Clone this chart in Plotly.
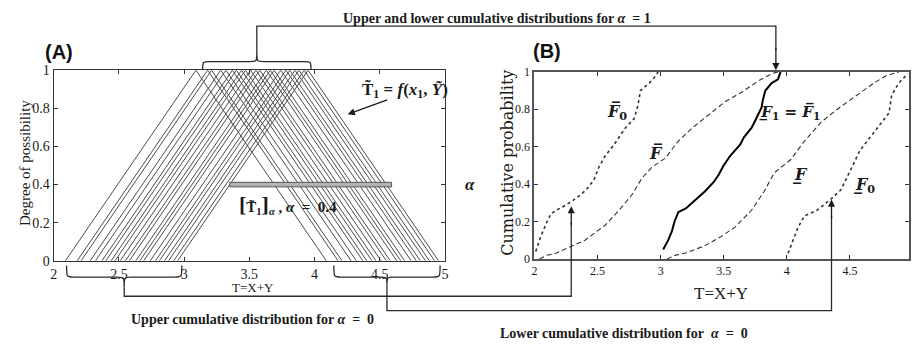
import plotly.graph_objects as go

W, H = 912, 355

# ---------------- Panel A data: triangular possibility distributions ----------------
tri_low = [2.09, 2.18, 2.21, 2.28, 2.32, 2.37, 2.40, 2.44, 2.47, 2.51, 2.55,
           2.58, 2.63, 2.66, 2.69, 2.74, 2.78, 2.81, 2.85, 2.88, 2.92, 2.95]
tri_mode = [3.09, 3.18, 3.21, 3.28, 3.32, 3.37, 3.40, 3.44, 3.47, 3.51, 3.55,
            3.58, 3.63, 3.66, 3.69, 3.74, 3.78, 3.81, 3.85, 3.88, 3.92, 3.95]
tri_high = [4.09, 4.18, 4.21, 4.28, 4.32, 4.37, 4.40, 4.44, 4.47, 4.51, 4.55,
            4.58, 4.63, 4.66, 4.69, 4.74, 4.78, 4.81, 4.85, 4.88, 4.92, 4.95]
alpha_level = 0.4
alpha_cut = [3.35, 4.59]

a_xticks = [2, 2.5, 3, 3.5, 4, 4.5, 5]
a_yticks = [0, 0.2, 0.4, 0.6, 0.8, 1]

# ---------------- Panel B data: cumulative distributions ----------------
upper0_x = [2.01, 2.05, 2.10, 2.13, 2.17, 2.23, 2.30, 2.36, 2.41, 2.47, 2.51, 2.56, 2.63,
            2.68, 2.72, 2.79, 2.82, 2.84, 2.86, 2.91, 2.95, 2.98]
upper0_y = [0.04, 0.12, 0.20, 0.24, 0.26, 0.28, 0.31, 0.34, 0.37, 0.42, 0.49, 0.55, 0.61,
            0.66, 0.70, 0.75, 0.82, 0.90, 0.91, 0.94, 0.97, 1.00]

upper_x = [2.04, 2.10, 2.17, 2.30, 2.40, 2.46, 2.56, 2.67, 2.77, 2.85, 2.93, 3.04, 3.14,
           3.25, 3.38, 3.51, 3.64, 3.77, 3.88, 3.93]
upper_y = [0.00, 0.02, 0.03, 0.07, 0.10, 0.13, 0.18, 0.26, 0.34, 0.43, 0.49, 0.54, 0.63,
           0.70, 0.77, 0.84, 0.89, 0.95, 0.99, 1.00]

exact_x = [3.02, 3.06, 3.09, 3.11, 3.14, 3.20, 3.25, 3.35, 3.42, 3.46, 3.50, 3.55, 3.59,
           3.63, 3.66, 3.72, 3.75, 3.77, 3.80, 3.81, 3.83, 3.88, 3.93, 3.95]
exact_y = [0.05, 0.10, 0.15, 0.20, 0.25, 0.27, 0.30, 0.36, 0.41, 0.45, 0.50, 0.55, 0.58,
           0.61, 0.65, 0.70, 0.74, 0.77, 0.81, 0.85, 0.90, 0.94, 0.96, 1.00]

lower_x = [3.05, 3.12, 3.19, 3.35, 3.48, 3.59, 3.72, 3.82, 3.90, 4.03, 4.14, 4.27, 4.40,
           4.56, 4.69, 4.79, 4.89]
lower_y = [0.00, 0.02, 0.03, 0.07, 0.12, 0.17, 0.26, 0.36, 0.46, 0.53, 0.63, 0.73, 0.80,
           0.88, 0.94, 0.98, 1.00]

lower0_x = [4.01, 4.05, 4.09, 4.14, 4.24, 4.35, 4.43, 4.48, 4.53, 4.58, 4.66, 4.74, 4.81,
            4.83, 4.86, 4.90, 4.93, 4.96]
lower0_y = [0.03, 0.10, 0.17, 0.23, 0.26, 0.32, 0.37, 0.44, 0.51, 0.58, 0.65, 0.72, 0.78,
            0.87, 0.91, 0.95, 0.97, 0.99]

b_xticks = [2, 2.5, 3, 3.5, 4, 4.5]
b_yticks = [0, 0.2, 0.4, 0.6, 0.8, 1]

# ---------------- layout geometry (pixels) ----------------
A_L, A_R, A_T, A_B = 51, 445, 66, 265
B_L, B_R, B_T, B_B = 535, 912, 67.7, 263
B_XMAX = 2 + (B_R - B_L) / 127.0


def fx(px):
    return px / W


def fy(py):
    return 1 - py / H


def pt(x, y):
    return f"{fx(x):.5f},{fy(y):.5f}"


def brace(x0, x1, ye, yp, yc, r=7):
    xm = (x0 + x1) / 2
    return (f"M {pt(x0, ye)} C {pt(x0, yp)} {pt(x0, yp)} {pt(x0 + r, yp)} "
            f"L {pt(xm - r, yp)} C {pt(xm, yp)} {pt(xm, yp)} {pt(xm, yc)} "
            f"C {pt(xm, yp)} {pt(xm, yp)} {pt(xm + r, yp)} "
            f"L {pt(x1 - r, yp)} C {pt(x1, yp)} {pt(x1, yp)} {pt(x1, ye)}")


def poly(points):
    return "M " + " L ".join(pt(x, y) for x, y in points)


SERIF = "Liberation Serif"
INK = "#1a1a1a"

fig = go.Figure()

# Panel A triangles
tx, ty = [], []
for lo, mo, hi in zip(tri_low, tri_mode, tri_high):
    tx += [lo, mo, hi, None]
    ty += [0, 1, 0, None]
fig.add_trace(go.Scatter(x=tx, y=ty, mode="lines", line=dict(color="#4d4d4d", width=1),
                         xaxis="x", yaxis="y", showlegend=False, hoverinfo="skip"))

# Panel B curves
curve_styles = [
    (upper0_x, upper0_y, dict(color="#333", width=1.6, dash="dot")),
    (upper_x, upper_y, dict(color="#333", width=1.1, dash="5px,3px")),
    (exact_x, exact_y, dict(color="#000", width=2)),
    (lower_x, lower_y, dict(color="#333", width=1.1, dash="5px,3px")),
    (lower0_x, lower0_y, dict(color="#333", width=1.6, dash="dot")),
]
for cx, cy, st in curve_styles:
    fig.add_trace(go.Scatter(x=cx, y=cy, mode="lines", line=st, xaxis="x2", yaxis="y2",
                             showlegend=False, hoverinfo="skip"))

shapes = []
# alpha-cut bar
shapes.append(dict(type="rect", xref="x", yref="y", x0=alpha_cut[0], x1=alpha_cut[1],
                   y0=alpha_level - 0.012, y1=alpha_level + 0.012,
                   fillcolor="#b3b3b3", line=dict(color="#555", width=1)))

conn = dict(color="#2a2a2a", width=1.3)
# braces
shapes.append(dict(type="path", xref="paper", yref="paper",
                   path=brace(201, 310, 65, 57, 47), line=conn))
shapes.append(dict(type="path", xref="paper", yref="paper",
                   path=brace(64, 180, 270, 282, 293), line=conn))
shapes.append(dict(type="path", xref="paper", yref="paper",
                   path=brace(333, 440, 270, 282, 291), line=conn))
# connectors
shapes.append(dict(type="path", xref="paper", yref="paper",
                   path=poly([(255.5, 47), (255.5, 20), (778, 20), (778, 45)]), line=conn))
shapes.append(dict(type="path", xref="paper", yref="paper",
                   path=poly([(122, 293), (122, 302), (572, 302), (572, 225)]), line=conn))
shapes.append(dict(type="path", xref="paper", yref="paper",
                   path=poly([(386.5, 291), (386.5, 317), (834, 317), (834, 218)]), line=conn))

annotations = []


def txt(x, y, text, size, family=SERIF, color=INK, **kw):
    annotations.append(dict(x=fx(x), y=fy(y), xref="paper", yref="paper", text=text,
                            showarrow=False, font=dict(family=family, size=size, color=color),
                            xanchor="center", yanchor="middle", **kw))


def arrow(xh, yh, ax, ay):
    annotations.append(dict(x=fx(xh), y=fy(yh), xref="paper", yref="paper", text="",
                            showarrow=True, ax=ax, ay=ay, arrowhead=2, arrowsize=1.1,
                            arrowwidth=1.3, arrowcolor="#1a1a1a", standoff=0))


arrow(778, 66, 0, -24)
arrow(572, 208, 0, 20)
arrow(834, 201, 0, 20)
arrow(347, 112, 41, -15)

NB = "\u00a0"
txt(497, 12, f"<b>Upper and lower cumulative distributions for <i>α</i>{NB}{NB}={NB}1</b>", 14)
txt(251, 326, f"<b>Upper cumulative distribution for <i>α</i>{NB}{NB}={NB}{NB}0</b>", 14)
txt(625, 341, f"<b>Lower cumulative distribution for{NB}{NB}<i>α</i>{NB}{NB}={NB}{NB}0</b>", 14)

txt(56, 47, "<b>(A)</b>", 20, family="Liberation Sans", color="#111")
txt(548, 46, "<b>(B)</b>", 20, family="Liberation Sans", color="#111")

txt(22, 163, "Degree of possibility", 15, textangle=-90)
txt(507, 163, "Cumulative probability", 16, family="DejaVu Serif", textangle=-90)
txt(252, 293, "T=X+Y", 13)
txt(723, 299, "T=X+Y", 17)

txt(405, 87, "<b>T\u0303<sub>1</sub> = <i>f</i>(<i>x</i><sub>1</sub>, <i>Ỹ</i>)</b>", 17)
txt(287, 206, f"<b><span style='font-size:22px'>[</span>T\u0303<sub>1</sub>"
              f"<span style='font-size:22px'>]</span><sub><i>α</i></sub> , <i>α</i>{NB}{NB}={NB}{NB}0.4</b>", 15)
txt(470, 185, "<b><i>α</i></b>", 17)

txt(618, 110, "<b><i>F\u0305</i><sub>0</sub></b>", 16, family="DejaVu Serif")
txt(657, 152, "<b><i>F\u0305</i></b>", 16, family="DejaVu Serif")
txt(792, 110, "<b><i>F\u0332</i><sub>1</sub> = <i>F\u0305</i><sub>1</sub></b>", 15, family="DejaVu Serif")
txt(803, 175, "<b><i>F\u0332</i></b>", 16, family="DejaVu Serif")
txt(867, 186, "<b><i>F\u0332</i><sub>0</sub></b>", 16, family="DejaVu Serif")

axis_common = dict(showgrid=False, zeroline=False, ticks="inside", ticklen=4,
                   tickcolor="#333", showline=True, mirror="ticks")

fig.update_layout(
    width=W, height=H, autosize=False,
    margin=dict(l=0, r=0, t=0, b=0),
    paper_bgcolor="white", plot_bgcolor="white",
    showlegend=False,
    xaxis=dict(domain=[fx(A_L), fx(A_R)], range=[2, 5], tickvals=a_xticks,
               linecolor="#333", linewidth=1, anchor="y",
               tickfont=dict(family=SERIF, size=14, color=INK), **axis_common),
    yaxis=dict(domain=[fy(A_B), fy(A_T)], range=[0, 1], tickvals=a_yticks,
               linecolor="#333", linewidth=1, anchor="x",
               tickfont=dict(family=SERIF, size=14, color=INK), **axis_common),
    xaxis2=dict(domain=[fx(B_L), 1.0], range=[2, B_XMAX], tickvals=b_xticks,
                linecolor="#555", linewidth=2, anchor="y2",
                tickfont=dict(family=SERIF, size=12, color=INK), **axis_common),
    yaxis2=dict(domain=[fy(B_B), fy(B_T)], range=[0, 1], tickvals=b_yticks,
                linecolor="#555", linewidth=2, anchor="x2",
                tickfont=dict(family=SERIF, size=12, color=INK), **axis_common),
    shapes=shapes,
    annotations=annotations,
)

fig.write_html("out.html", config={"displayModeBar": False},
               post_script="document.body.style.margin='0';")
